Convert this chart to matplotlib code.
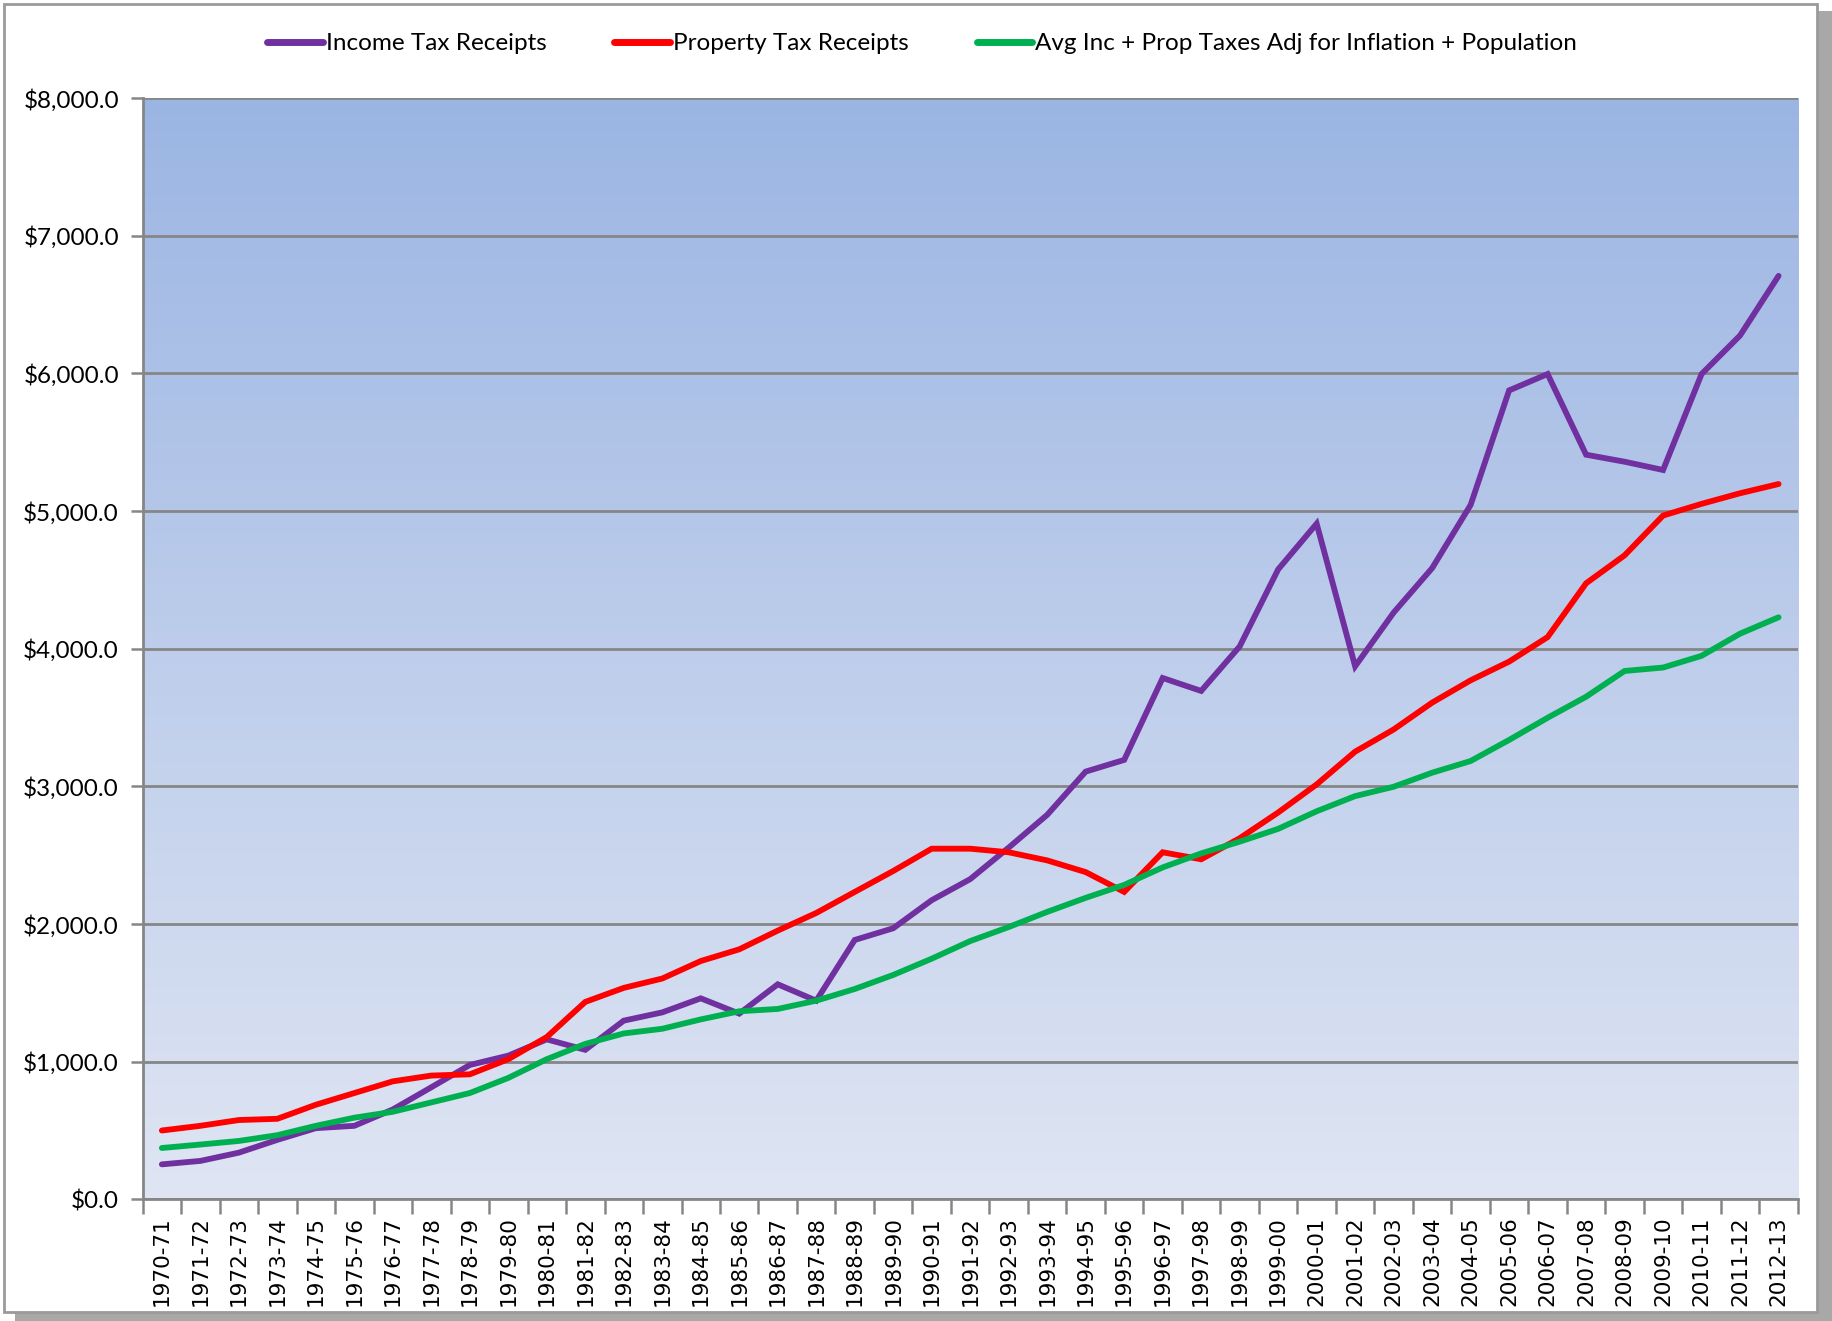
import numpy as np
import matplotlib
matplotlib.use("Agg")
import matplotlib.pyplot as plt
from matplotlib.patches import Rectangle
from matplotlib.ticker import FuncFormatter, FixedLocator

# fiscal years
years = ["1970-71", "1971-72", "1972-73", "1973-74", "1974-75", "1975-76", "1976-77",
         "1977-78", "1978-79", "1979-80", "1980-81", "1981-82", "1982-83", "1983-84",
         "1984-85", "1985-86", "1986-87", "1987-88", "1988-89", "1989-90", "1990-91",
         "1991-92", "1992-93", "1993-94", "1994-95", "1995-96", "1996-97", "1997-98",
         "1998-99", "1999-00", "2000-01", "2001-02", "2002-03", "2003-04", "2004-05",
         "2005-06", "2006-07", "2007-08", "2008-09", "2009-10", "2010-11", "2011-12",
         "2012-13"]

income_tax = [255, 280, 340, 433, 518, 535, 654, 815, 977, 1045, 1163, 1087, 1299, 1359,
              1461, 1350, 1563, 1444, 1885, 1970, 2174, 2327, 2556, 2794, 3108, 3193,
              3788, 3694, 4017, 4577, 4909, 3873, 4263, 4586, 5045, 5877, 5996, 5410,
              5359, 5299, 5996, 6276, 6709]

property_tax = [501, 535, 577, 586, 688, 773, 858, 900, 909, 1019, 1180, 1435, 1537, 1605,
                1732, 1817, 1953, 2081, 2234, 2386, 2548, 2548, 2522, 2463, 2378, 2234,
                2522, 2471, 2624, 2811, 3015, 3253, 3414, 3609, 3771, 3907, 4085, 4476,
                4679, 4968, 5053, 5130, 5197]

avg_adjusted = [374, 399, 425, 467, 535, 594, 637, 705, 773, 883, 1019, 1130, 1206, 1240,
                1308, 1367, 1384, 1444, 1529, 1631, 1749, 1877, 1979, 2089, 2191, 2285,
                2412, 2514, 2599, 2692, 2820, 2930, 2998, 3100, 3185, 3338, 3499, 3652,
                3839, 3864, 3949, 4110, 4229]

series_names = ["Income Tax Receipts", "Property Tax Receipts",
                "Avg Inc + Prop Taxes Adj for Inflation + Population"]
colors = ["#7030A0", "#FF0000", "#00B050"]

fig = plt.figure(figsize=(18.33, 13.21), dpi=100)

# outer chart frame with a shadow on the right and bottom, Excel style
fig.patches.append(Rectangle((0.008, 0.0), 0.992, 0.992, transform=fig.transFigure,
                             facecolor="#A8A8A8", edgecolor="none", zorder=0))
fig.patches.append(Rectangle((0.002, 0.007), 0.989, 0.99, transform=fig.transFigure,
                             facecolor="white", edgecolor="#9A9A9A", linewidth=2, zorder=1))

ax = fig.add_axes([0.0778, 0.092, 0.903, 0.8337])
ax.set_zorder(2)

n = len(years)
x = np.arange(n)

# plot area gradient (dark blue at top, pale at bottom)
top = np.array([155, 181, 227]) / 255
bottom = np.array([223, 229, 243]) / 255
t = np.linspace(0, 1, 256)[:, None]
grad = (top * (1 - t) + bottom * t)[:, None, :]
ax.imshow(grad, extent=[-0.5, n - 0.5, 0, 8000], aspect="auto", zorder=0,
          interpolation="bicubic")

for vals, name, c in zip([income_tax, property_tax, avg_adjusted], series_names, colors):
    ax.plot(x, vals, color=c, linewidth=4.2, label=name, zorder=3,
            solid_capstyle="round", solid_joinstyle="miter")

ax.set_xlim(-0.5, n - 0.5)
ax.set_ylim(0, 8000)

ax.set_yticks(np.arange(0, 8001, 1000))
ax.yaxis.set_major_formatter(FuncFormatter(lambda v, p: "${:,.1f}".format(v)))
ax.grid(axis="y", color="#868686", linewidth=2, zorder=1)
ax.set_axisbelow(True)

ax.set_xticks(x)
ax.set_xticklabels(years, rotation=90, fontsize=15.5, family="DejaVu Sans")
ax.xaxis.set_minor_locator(FixedLocator(np.arange(-0.5, n, 1)))
ax.tick_params(axis="x", which="major", length=0, pad=12)
ax.tick_params(axis="x", which="minor", length=11, width=1.8, color="#868686")
ax.tick_params(axis="y", length=9, width=1.8, color="#868686", pad=8)
for lab in ax.get_yticklabels():
    lab.set_fontsize(17.5)
    lab.set_family("Lato")

for s in ["top", "right"]:
    ax.spines[s].set_visible(False)
for s in ["left", "bottom"]:
    ax.spines[s].set_color("#868686")
    ax.spines[s].set_linewidth(2)

leg = fig.legend(loc="center", bbox_to_anchor=(0.503, 0.967), ncol=3, frameon=False,
                 prop={"family": "Lato", "size": 17.5}, handlelength=2.3,
                 handletextpad=0.1, columnspacing=2.8)
for line in leg.get_lines():
    line.set_linewidth(5)

fig.savefig("out.png", dpi=100)
